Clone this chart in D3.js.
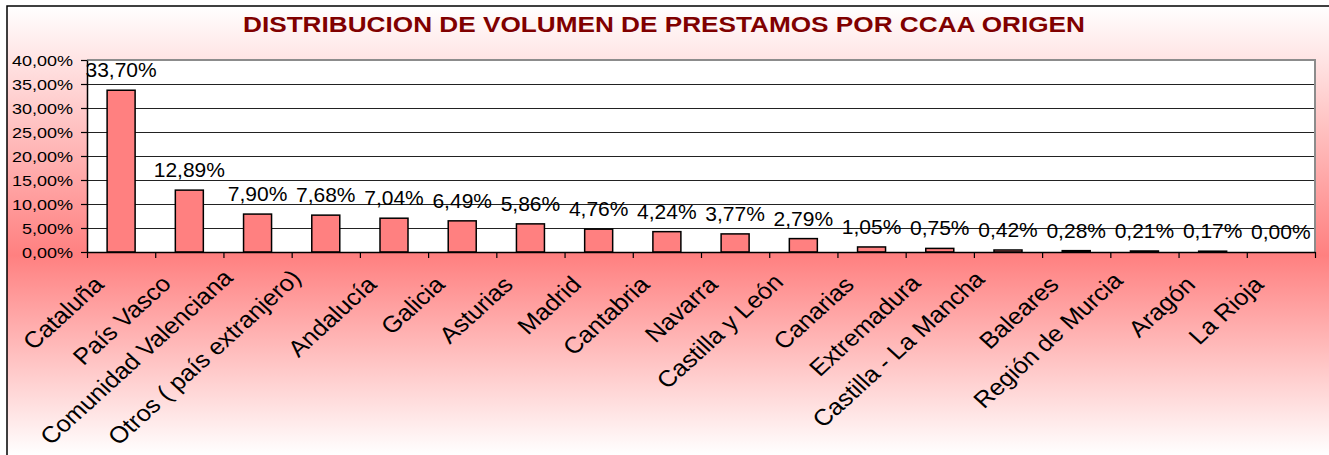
<!DOCTYPE html>
<html>
<head>
<meta charset="utf-8">
<script src="https://cdn.jsdelivr.net/npm/d3@7"></script>
<style>
  body { margin: 0; background: #fff; }
  svg text { font-family: "Liberation Sans", Arial, sans-serif; }
</style>
</head>
<body>
<div id="chart"></div>
<script>
const title = 'DISTRIBUCION DE VOLUMEN DE PRESTAMOS POR CCAA ORIGEN';

const regions = [
    'Cataluña', 'País Vasco', 'Comunidad Valenciana', 'Otros ( país extranjero)',
    'Andalucía', 'Galicia', 'Asturias', 'Madrid', 'Cantabria', 'Navarra',
    'Castilla y León', 'Canarias', 'Extremadura', 'Castilla - La Mancha',
    'Baleares', 'Región de Murcia', 'Aragón', 'La Rioja'
];

// porcentaje del volumen de prestamos
const shares = [33.70, 12.89, 7.90, 7.68, 7.04, 6.49, 5.86, 4.76, 4.24, 3.77,
    2.79, 1.05, 0.75, 0.42, 0.28, 0.21, 0.17, 0.00];

const yTicks = [0, 5, 10, 15, 20, 25, 30, 35, 40];

const width = 1329;
const height = 455;
const plot = { left: 87, right: 1315, top: 60, bottom: 252 };

const es = d3.formatLocale({ decimal: ',', thousands: '.', grouping: [3], currency: ['', ' €'] });
const pct = v => es.format('.2f')(v) + '%';

const svg = d3.select('#chart')
    .append('svg')
    .attr('width', width)
    .attr('height', height);

// degradado de fondo (blanco - salmon - blanco)
const grad = svg.append('defs').append('linearGradient')
    .attr('id', 'bg')
    .attr('gradientUnits', 'userSpaceOnUse')
    .attr('x1', 0).attr('y1', 6).attr('x2', 0).attr('y2', 455);
grad.append('stop').attr('offset', 0).attr('stop-color', '#ffffff');
grad.append('stop').attr('offset', 0.555).attr('stop-color', '#ff8080');
grad.append('stop').attr('offset', 1).attr('stop-color', '#ffffff');

svg.append('rect')
    .attr('x', 7).attr('y', 6)
    .attr('width', width).attr('height', height)
    .attr('fill', 'url(#bg)')
    .attr('stroke', '#000')
    .attr('stroke-width', 1.5);

svg.append('text')
    .attr('x', 243)
    .attr('y', 32)
    .attr('textLength', 842)
    .attr('lengthAdjust', 'spacingAndGlyphs')
    .attr('font-size', 22)
    .attr('font-weight', 'bold')
    .attr('fill', '#800000')
    .text(title);

const x = d3.scaleBand()
    .domain(regions)
    .range([plot.left, plot.right]);

const xEdges = d3.scaleLinear()
    .domain([0, regions.length])
    .range([plot.left, plot.right]);

const y = d3.scaleLinear()
    .domain([0, 40])
    .range([plot.bottom, plot.top]);

// area de trazado
svg.append('rect')
    .attr('x', plot.left).attr('y', plot.top)
    .attr('width', plot.right - plot.left)
    .attr('height', plot.bottom - plot.top)
    .attr('fill', '#fff');

svg.append('g')
    .selectAll('line')
    .data(yTicks.slice(1))
    .enter()
    .append('line')
    .attr('x1', plot.left).attr('x2', plot.right)
    .attr('y1', d => Math.round(y(d)) + 0.5)
    .attr('y2', d => Math.round(y(d)) + 0.5)
    .attr('stroke', '#222')
    .attr('stroke-width', 1);

// borde gris arriba y derecha
svg.append('path')
    .attr('d', `M${plot.left},${plot.top}H${plot.right}V${plot.bottom}`)
    .attr('fill', 'none')
    .attr('stroke', '#8c8c8c')
    .attr('stroke-width', 2);

const barWidth = 28;

svg.append('g')
    .selectAll('rect')
    .data(shares)
    .enter()
    .append('rect')
    .attr('x', (d, i) => x(regions[i]) + x.bandwidth() / 2 - barWidth / 2)
    .attr('y', d => y(d))
    .attr('width', barWidth)
    .attr('height', d => y(0) - y(d))
    .attr('fill', '#ff8080')
    .attr('stroke', '#000')
    .attr('stroke-width', 1.5);

// eje Y
const yAxis = svg.append('g')
    .attr('transform', `translate(${plot.left},0)`)
    .call(d3.axisLeft(y).tickValues(yTicks).tickSize(6).tickSizeOuter(0).tickFormat(pct));
yAxis.select('.domain').attr('stroke', '#000').attr('stroke-width', 1.5);
yAxis.selectAll('.tick line').attr('stroke', '#000').attr('stroke-width', 1.2);
yAxis.selectAll('.tick text')
    .attr('x', 0)
    .attr('dy', '0.36em')
    .attr('font-size', 15)
    .attr('fill', '#000')
    .attr('transform', 'translate(-14,0) scale(1.2,1)');

// eje X
const xAxis = svg.append('g')
    .attr('transform', `translate(0,${plot.bottom})`)
    .call(d3.axisBottom(xEdges).ticks(regions.length).tickSize(6).tickSizeOuter(0).tickFormat(''));
xAxis.select('.domain').attr('stroke', '#000').attr('stroke-width', 1.5);
xAxis.selectAll('.tick line').attr('stroke', '#000').attr('stroke-width', 1.2);

// etiquetas giradas; las largas se suben un poco para que quepan
const xLabels = svg.append('g')
    .selectAll('text')
    .data(regions)
    .enter()
    .append('text')
    .attr('text-anchor', 'end')
    .attr('font-size', 23)
    .attr('fill', '#000')
    .attr('transform', d => `translate(${x(d) + x.bandwidth() / 2 - 16},286) scale(1.1,1) rotate(-45)`)
    .text(d => d);

xLabels.attr('dy', function () {
    const len = this.getComputedTextLength();
    return -Math.max(0, (len - 100) * 0.07);
});

// etiquetas de datos
svg.append('g')
    .selectAll('text')
    .data(shares)
    .enter()
    .append('text')
    .attr('text-anchor', 'middle')
    .attr('x', (d, i) => x(regions[i]) + x.bandwidth() / 2)
    .attr('y', d => y(d) - 13)
    .attr('font-size', 21)
    .attr('fill', '#000')
    .text(d => pct(d));
</script>
</body>
</html>
